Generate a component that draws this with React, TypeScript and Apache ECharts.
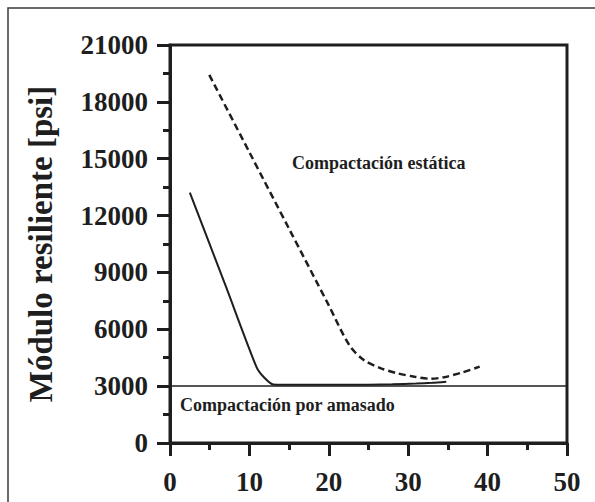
import React, { useEffect, useRef } from "react";
import * as echarts from "echarts";

const amasadoX = [2.5, 7, 10.9, 11.8, 13.0, 16, 20, 25, 28, 31, 33, 34.8];
const amasadoY = [13210, 8300, 4000, 3480, 3090, 3070, 3070, 3080, 3100, 3140, 3180, 3235];

const estaticaX = [4.95, 10, 15, 20, 22.6, 24.4, 26.5, 28.6, 30.8, 32.8, 34.5, 36.8, 39.0];
const estaticaY = [19420, 15340, 11300, 7260, 5150, 4380, 3950, 3680, 3500, 3390, 3470, 3720, 4030];

const xTicks = { min: 0, max: 50, interval: 10 };
const yTicks = { min: 0, max: 21000, interval: 3000 };
const refLineValue = 3000;

const yTitle = "Módulo resiliente [psi]";
const labelEstatica = "Compactación estática";
const labelAmasado = "Compactación por amasado";

const FONT = "Liberation Serif";
const INK = "#1e1e1e";

export default function App() {
  const ref = useRef<HTMLDivElement>(null);
  useEffect(() => {
    if (!ref.current) return;
    const chart = echarts.init(ref.current, undefined, { renderer: "svg" });
    const axisCommon = {
      axisLine: { show: true, lineStyle: { color: INK, width: 3 } },
      axisTick: { show: true, inside: false, length: 13, lineStyle: { color: INK, width: 3 } },
      minorTick: { show: true, splitNumber: 2, length: 7, lineStyle: { color: INK, width: 3 } },
      splitLine: { show: false },
      minorSplitLine: { show: false },
      axisLabel: {
        color: INK,
        fontFamily: FONT,
        fontWeight: "bold" as const,
        fontSize: 27,
        formatter: (v: number) => String(v),
      },
    };
    chart.setOption({
      animation: false,
      backgroundColor: "#ffffff",
      grid: {
        left: 170,
        top: 45,
        right: 28,
        bottom: 59,
        show: true,
        borderColor: INK,
        borderWidth: 3,
        containLabel: false,
      },
      xAxis: {
        type: "value",
        ...xTicks,
        ...axisCommon,
        axisLabel: { ...axisCommon.axisLabel, margin: 25 },
      },
      yAxis: {
        type: "value",
        ...yTicks,
        ...axisCommon,
        axisLabel: { ...axisCommon.axisLabel, margin: 22 },
      },
      series: [
        {
          type: "line",
          data: amasadoX.map((x, i) => [x, amasadoY[i]]),
          showSymbol: false,
          symbol: "none",
          smooth: 0.25,
          lineStyle: { color: INK, width: 2 },
          markLine: {
            silent: true,
            symbol: "none",
            label: { show: false },
            lineStyle: { color: INK, width: 1.5, type: "solid" },
            data: [{ yAxis: refLineValue }],
          },
        },
        {
          type: "line",
          data: estaticaX.map((x, i) => [x, estaticaY[i]]),
          showSymbol: false,
          symbol: "none",
          smooth: 0.3,
          lineStyle: { color: INK, width: 2.5, type: [7, 4] },
        },
      ],
      graphic: [
        {
          type: "rect",
          shape: { x: 8, y: 8, width: 800, height: 800 },
          style: { fill: "none", stroke: "#3a3a3a", lineWidth: 1.5 },
          silent: true,
        },
        {
          type: "text",
          x: 41,
          y: 244,
          rotation: Math.PI / 2,
          style: {
            text: yTitle,
            fontFamily: FONT,
            fontWeight: "bold",
            fontSize: 33,
            fill: INK,
            align: "center",
            verticalAlign: "middle",
          },
        },
        {
          type: "text",
          x: 292,
          y: 163,
          style: {
            text: labelEstatica,
            fontFamily: FONT,
            fontWeight: "bold",
            fontSize: 18,
            fill: INK,
            align: "left",
            verticalAlign: "middle",
          },
        },
        {
          type: "text",
          x: 180,
          y: 405,
          style: {
            text: labelAmasado,
            fontFamily: FONT,
            fontWeight: "bold",
            fontSize: 18,
            fill: INK,
            align: "left",
            verticalAlign: "middle",
          },
        },
      ],
    });
    return () => chart.dispose();
  }, []);
  return (
    <div
      ref={ref}
      style={{ position: "fixed", left: 0, top: 0, width: 595, height: 502 }}
    />
  );
}
